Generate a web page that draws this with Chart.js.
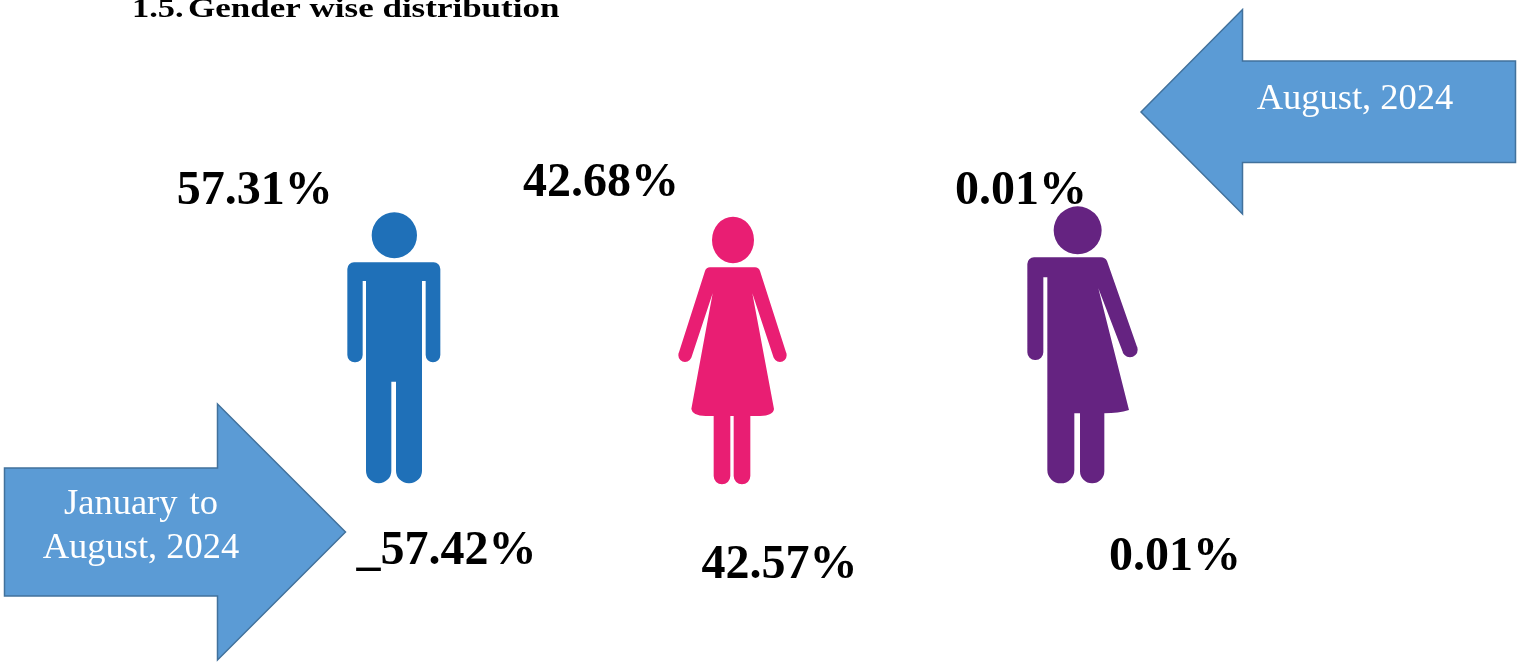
<!DOCTYPE html>
<html>
<head>
<meta charset="utf-8">
<title>Gender wise distribution</title>
<script src="https://cdn.jsdelivr.net/npm/chart.js@4"></script>
<style>
  html, body { margin: 0; padding: 0; background: #ffffff; overflow: hidden; }
  canvas { display: block; }
</style>
</head>
<body>
<canvas id="grafico" width="1519" height="664"></canvas>
<script>
// Data
const titulo = '1.5. Gender wise distribution';
const categorias = ['Male', 'Female', 'Third gender'];
const valoresAgosto = [57.31, 42.68, 0.01];
const valoresJanAgo = [57.42, 42.57, 0.01];
const rotuloAgosto = ['August, 2024'];
const rotuloJanAgo = ['January to', 'August, 2024'];

// Layout, in page units (the two axes run 0-1519 and 0-664)
const centroIcone = [[395, 347.5], [732.5, 350], [1082.5, 345]];
const posAgosto = [[254.8, 204], [601, 195.5], [1021, 204]];
const posJanAgo = [[446.5, 563.5], [779.5, 578], [1175, 570]];
const coresIcone = ['#1f70b8', '#e91e73', '#652381'];

const AZUL_SETA = '#5b9bd5';
const BORDA_SETA = '#41719c';
const FONTE_VALOR = 'bold 48px "Liberation Serif"';
const FONTE_SETA = '36.5px "Liberation Serif"';

// The icons are drawn at 3x inside a small canvas and used as point styles
function criarIcone(largura, altura, cor, desenhar) {
  const c = document.createElement('canvas');
  c.width = largura;
  c.height = altura;
  const g = c.getContext('2d');
  g.scale(1 / 3, 1 / 3);
  g.fillStyle = cor;
  g.beginPath();
  desenhar(g);
  g.fill();
  return c;
}

function circulo(g, x, y, rx, ry) {
  g.moveTo(x + rx, y);
  g.ellipse(x, y, rx, ry, 0, 0, Math.PI * 2);
}

function iconeHomem(g) {
  circulo(g, 193, 106, 68, 69);
  g.roundRect(52, 187, 279, 56, [20, 20, 0, 0]);
  g.roundRect(52, 200, 46, 287, 22);
  g.roundRect(287, 200, 44, 287, 22);
  g.rect(108, 200, 168, 345);
  g.roundRect(108, 400, 76, 450, 38);
  g.roundRect(198, 400, 78, 450, 38);
}

function iconeMulher(g) {
  circulo(g, 204, 105, 63, 70);
  g.moveTo(135, 187);
  g.lineTo(270, 187);
  g.quadraticCurveTo(281, 187, 285, 198);
  g.lineTo(364, 445);
  g.lineTo(326, 458);
  g.lineTo(262, 265);
  g.lineTo(327, 612);
  g.quadraticCurveTo(325, 632, 285, 633);
  g.lineTo(122, 633);
  g.quadraticCurveTo(82, 632, 79, 612);
  g.lineTo(143, 265);
  g.lineTo(79, 458);
  g.lineTo(41, 445);
  g.lineTo(120, 198);
  g.quadraticCurveTo(124, 187, 135, 187);
  g.closePath();
  circulo(g, 60, 451, 20, 20);
  circulo(g, 345, 451, 20, 20);
  g.roundRect(146, 600, 50, 238, 25);
  g.roundRect(206, 600, 50, 238, 25);
}

function iconeTerceiro(g) {
  circulo(g, 188, 106, 72, 72);
  g.roundRect(37, 187, 100, 60, [20, 0, 0, 0]);
  g.roundRect(37, 200, 48, 295, 23);
  g.moveTo(97, 187);
  g.lineTo(258, 187);
  g.quadraticCurveTo(270, 187, 276, 198);
  g.lineTo(367, 458);
  g.lineTo(323, 470);
  g.lineTo(250, 280);
  g.lineTo(342, 645);
  g.quadraticCurveTo(310, 655, 268, 655);
  g.lineTo(97, 655);
  g.closePath();
  circulo(g, 345, 464, 23, 23);
  g.roundRect(97, 600, 81, 265, 40);
  g.roundRect(195, 600, 73, 265, 36);
}

const icones = [
  criarIcone(130, 295, coresIcone[0], iconeHomem),
  criarIcone(135, 290, coresIcone[1], iconeMulher),
  criarIcone(135, 300, coresIcone[2], iconeTerceiro)
];

function seta(ctx, pontos) {
  ctx.beginPath();
  pontos.forEach((p, i) => i === 0 ? ctx.moveTo(p[0], p[1]) : ctx.lineTo(p[0], p[1]));
  ctx.closePath();
  ctx.fillStyle = AZUL_SETA;
  ctx.fill();
  ctx.lineWidth = 1.5;
  ctx.strokeStyle = BORDA_SETA;
  ctx.stroke();
}

// Arrows, title and percentage labels
const pluginInfografico = {
  id: 'infografico',
  beforeDatasetsDraw(chart) {
    const ctx = chart.ctx;
    const sx = chart.scales.x;
    const sy = chart.scales.y;
    const px = p => [sx.getPixelForValue(p[0]), sy.getPixelForValue(p[1])];

    seta(ctx, [[4.5, 468], [217.5, 468], [217.5, 404], [345.5, 532], [217.5, 660], [217.5, 596], [4.5, 596]].map(px));
    seta(ctx, [[1515.5, 61], [1242.5, 61], [1242.5, 9.5], [1141, 112], [1242.5, 214], [1242.5, 162.5], [1515.5, 162.5]].map(px));

    ctx.save();
    ctx.textAlign = 'center';
    ctx.textBaseline = 'alphabetic';
    ctx.fillStyle = '#ffffff';
    ctx.font = FONTE_SETA;
    ctx.wordSpacing = '3px';
    ctx.fillText(rotuloJanAgo[0], sx.getPixelForValue(141), sy.getPixelForValue(514));
    ctx.wordSpacing = '0px';
    ctx.fillText(rotuloJanAgo[1], sx.getPixelForValue(141), sy.getPixelForValue(558));
    ctx.fillText(rotuloAgosto[0], sx.getPixelForValue(1355), sy.getPixelForValue(109));

    ctx.fillStyle = '#000000';
    ctx.font = FONTE_VALOR;
    categorias.forEach((c, i) => {
      const a = px(posAgosto[i]);
      ctx.fillText(valoresAgosto[i].toFixed(2) + '%', a[0], a[1]);
      const b = px(posJanAgo[i]);
      const prefixo = i === 0 ? '_' : '';
      ctx.fillText(prefixo + valoresJanAgo[i].toFixed(2) + '%', b[0], b[1]);
    });

    // the title is stretched sideways in the source and cut by the top edge
    ctx.textAlign = 'left';
    ctx.font = 'bold 28px "Liberation Serif"';
    const baseTitulo = sy.getPixelForValue(17);
    ctx.setTransform(1.23, 0, 0, 1, sx.getPixelForValue(132), baseTitulo);
    ctx.fillText(titulo.slice(0, 4), 0, 0);
    ctx.setTransform(1.25, 0, 0, 1, sx.getPixelForValue(188), baseTitulo);
    ctx.fillText(titulo.slice(5), 0, 0);
    ctx.restore();
  }
};

new Chart(document.getElementById('grafico').getContext('2d'), {
  type: 'scatter',
  data: {
    labels: categorias,
    datasets: [{
      label: 'Gender',
      data: centroIcone.map(p => ({ x: p[0], y: p[1] })),
      pointStyle: icones,
      pointRadius: 1,
      clip: false
    }]
  },
  options: {
    responsive: false,
    animation: false,
    layout: { padding: 0, autoPadding: false },
    plugins: {
      legend: { display: false },
      tooltip: { enabled: false }
    },
    scales: {
      x: { type: 'linear', display: false, min: 0, max: 1519 },
      y: { type: 'linear', display: false, min: 0, max: 664, reverse: true }
    }
  },
  plugins: [pluginInfografico]
});
</script>
</body>
</html>
